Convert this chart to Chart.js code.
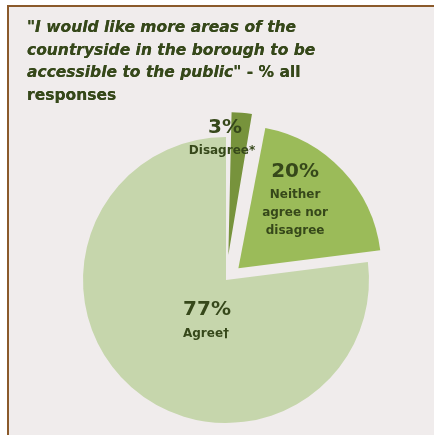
<!DOCTYPE html>
<html>
<head>
<meta charset="utf-8">
<script src="https://cdn.jsdelivr.net/npm/chart.js@4/dist/chart.umd.min.js"></script>
<style>
  html, body { margin: 0; padding: 0; background: #ffffff; }
  #frame {
    position: absolute; left: 7px; top: 5px; width: 427px; height: 430px;
    background: #f0ecec; border-left: 2px solid #8b5a2b; border-top: 2px solid #8b5a2b;
    box-sizing: border-box;
  }
  #title {
    position: absolute; left: 27px; top: 16px;
    font-family: "DejaVu Sans", sans-serif; font-weight: bold;
    font-size: 15.5px; line-height: 22.5px; color: #36481a;
    text-shadow: 0 0 0.6px #36481a;
  }
  #title i { font-style: italic; }
  #wrap { position: absolute; left: 0; top: 0; width: 434px; height: 435px; }
</style>
</head>
<body>
<div id="frame"></div>
<div id="wrap"><canvas id="c" width="434" height="435"></canvas></div>
<div id="title"><i>"I would like more areas of the<br>countryside in the borough to be<br>accessible to the public"</i> - % all<br>responses</div>
<script>
const categories = ["Disagree*", "Neither agree nor disagree", "Agree†"];
const values = [3, 20, 77];
const pctLabels = ["3%", "20%", "77%"];
const nameLines = [["Disagree*"], ["Neither", "agree nor", "disagree"], ["Agree†"]];
const colors = ["#77933c", "#9bbb59", "#c6d6ac"];
const explode = [100, 68, 0];
const pieRadius = 143;

// label placement relative to pie centre, in units of the radius
const labelPos = [
  { pct: [-0.007, -1.063], name: [-0.028, -0.902], step: 0 },
  { pct: [0.483, -0.755], name: [0.483, -0.594], step: 0.124 },
  { pct: [-0.133, 0.21], name: [-0.14, 0.378], step: 0 }
];

// keep exploded slices at the same radius as the rest of the pie
const keepRadius = {
  id: 'keepRadius',
  beforeDatasetsDraw(chart) {
    const meta = chart.getDatasetMeta(0);
    meta.data.forEach((arc, i) => {
      const circ = arc.endAngle - arc.startAngle;
      const fix = 1 - Math.sin(Math.min(Math.PI, circ));
      arc.outerRadius = pieRadius - (explode[i] / 4) * fix;
    });
  }
};

const labelPlugin = {
  id: 'sliceLabels',
  afterDatasetsDraw(chart) {
    const ctx = chart.ctx;
    const meta = chart.getDatasetMeta(0);
    const arc0 = meta.data[2];
    const cx = arc0.x, cy = arc0.y, r = pieRadius;
    ctx.save();
    ctx.fillStyle = "#36481a";
    ctx.textAlign = "center";
    ctx.textBaseline = "middle";
    meta.data.forEach((arc, i) => {
      const p = labelPos[i];
      ctx.font = "bold 20px 'DejaVu Sans', sans-serif";
      ctx.fillText(pctLabels[i], cx + p.pct[0] * r, cy + p.pct[1] * r);
      ctx.font = "bold 12px 'DejaVu Sans', sans-serif";
      nameLines[i].forEach((ln, k) => {
        ctx.fillText(ln, cx + p.name[0] * r, cy + (p.name[1] + k * p.step) * r);
      });
    });
    ctx.restore();
  }
};

new Chart(document.getElementById('c'), {
  type: 'pie',
  data: {
    labels: categories,
    datasets: [{
      data: values,
      backgroundColor: colors,
      borderWidth: 0,
      offset: explode
    }]
  },
  options: {
    responsive: false,
    animation: false,
    radius: pieRadius,
    layout: { padding: { left: 60, right: 42, top: 130, bottom: 5 } },
    plugins: { legend: { display: false }, tooltip: { enabled: false }, title: { display: false } }
  },
  plugins: [keepRadius, labelPlugin]
});
</script>
</body>
</html>
